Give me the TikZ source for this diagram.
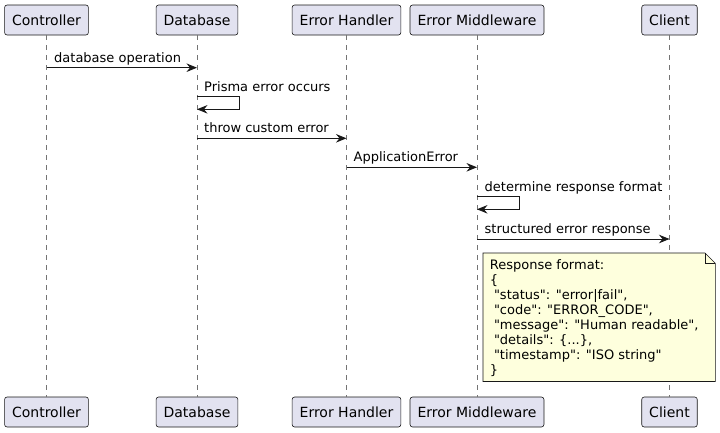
\documentclass[tikz,border=0pt]{standalone}
\usepackage{fontspec}
\setmainfont{DejaVu Sans}
\usetikzlibrary{arrows.meta}
\definecolor{umlline}{HTML}{181818}
\definecolor{umlbox}{HTML}{E2E2F0}
\definecolor{umlnote}{HTML}{FEFFDD}
\newcommand{\jq}[1]{\textquotedbl#1\textquotedbl}
\tikzset{
    actorbox/.style = {draw = umlline, fill = umlbox, rounded corners = 2.5pt, line width = 0.6pt,
        minimum height = 30pt, inner xsep = 7.5pt, text height = 10.5pt, text depth = 0pt,
        font = \fontsize{14}{16}\selectfont},
    lifeline/.style = {draw = umlline!60, line width = 0.6pt, dash pattern = on 5pt off 5pt},
    msg/.style = {draw = umlline, line width = 0.9pt, -{Stealth[length = 10.5pt, width = 8.5pt, inset = 3.5pt]}},
    msgtext/.style = {anchor = base west, inner sep = 0pt, font = \fontsize{13}{15}\selectfont},
    notebox/.style = {fill = umlnote, draw = umlline, line width = 0.6pt},
    notetext/.style = {anchor = base west, inner sep = 0pt, align = left, font = \fontsize{13}{15}\selectfont}
}
\begin{document}
\begin{tikzpicture}[x = 1pt, y = -1pt]
        \useasboundingbox (0,0) rectangle (720,432);
        \node [actorbox] (1-1) at (46.5,20) {Controller};
        \node [actorbox] (1-2) at (197,20) {Database};
        \node [actorbox] (1-3) at (346.5,20) {Error Handler};
        \node [actorbox] (1-4) at (477,20) {Error Middleware};
        \node [actorbox] (1-5) at (669.5,20) {Client};
        \node [actorbox] (2-1) at (46.5,412) {Controller};
        \node [actorbox] (2-2) at (197,412) {Database};
        \node [actorbox] (2-3) at (346.5,412) {Error Handler};
        \node [actorbox] (2-4) at (477,412) {Error Middleware};
        \node [actorbox] (2-5) at (669.5,412) {Client};
        \draw [lifeline] (1-1) -- (2-1) (1-2) -- (2-2) (1-3) -- (2-3) (1-4) -- (2-4) (1-5) -- (2-5);
        \coordinate (3-1) at (46.5,67.7);
        \coordinate (3-2) at (197,67.7);
        \coordinate (4-1) at (197,96.7);
        \coordinate (4-2) at (239.3,96.7);
        \coordinate (4-3) at (239.3,109.3);
        \coordinate (4-4) at (197,109.3);
        \coordinate (5-1) at (197,138.3);
        \coordinate (5-2) at (346.5,138.3);
        \coordinate (6-1) at (346.5,167.3);
        \coordinate (6-2) at (477,167.3);
        \coordinate (7-1) at (477,196.7);
        \coordinate (7-2) at (519.3,196.7);
        \coordinate (7-3) at (519.3,209.3);
        \coordinate (7-4) at (477,209.3);
        \coordinate (8-1) at (477,239);
        \coordinate (8-2) at (669.5,239);
        \draw [msg] (3-1) -- (3-2);
        \draw [msg] (4-1) -- (4-2) -- (4-3) -- (4-4);
        \draw [msg] (5-1) -- (5-2);
        \draw [msg] (6-1) -- (6-2);
        \draw [msg] (7-1) -- (7-2) -- (7-3) -- (7-4);
        \draw [msg] (8-1) -- (8-2);
        \node [msgtext] (l-1) at (54,62.2) {database operation};
        \node [msgtext] (l-2) at (204,91.2) {Prisma error occurs};
        \node [msgtext] (l-3) at (204,132.8) {throw custom error};
        \node [msgtext] (l-4) at (353.5,161.8) {ApplicationError};
        \node [msgtext] (l-5) at (484.5,191.2) {determine response format};
        \node [msgtext] (l-6) at (484.5,233.5) {structured error response};
        \path [notebox] (483,253) -- (705,253) -- (715.3,263.3) -- (715.3,381.5) -- (483,381.5) -- cycle;
        \draw [umlline, line width = 0.6pt] (705,253) -- (705,263.3) -- (715.3,263.3);
        \node [notetext] (n-1) at (489.7,374.7) {Response format:\\
            \{\\
            \hspace*{4.1pt}\jq{status}: \jq{error|fail},\\
            \hspace*{4.1pt}\jq{code}: \jq{ERROR\_CODE},\\
            \hspace*{4.1pt}\jq{message}: \jq{Human readable},\\
            \hspace*{4.1pt}\jq{details}: \{...\},\\
            \hspace*{4.1pt}\jq{timestamp}: \jq{ISO string}\\
            \}};
    \end{tikzpicture}
\end{document}
